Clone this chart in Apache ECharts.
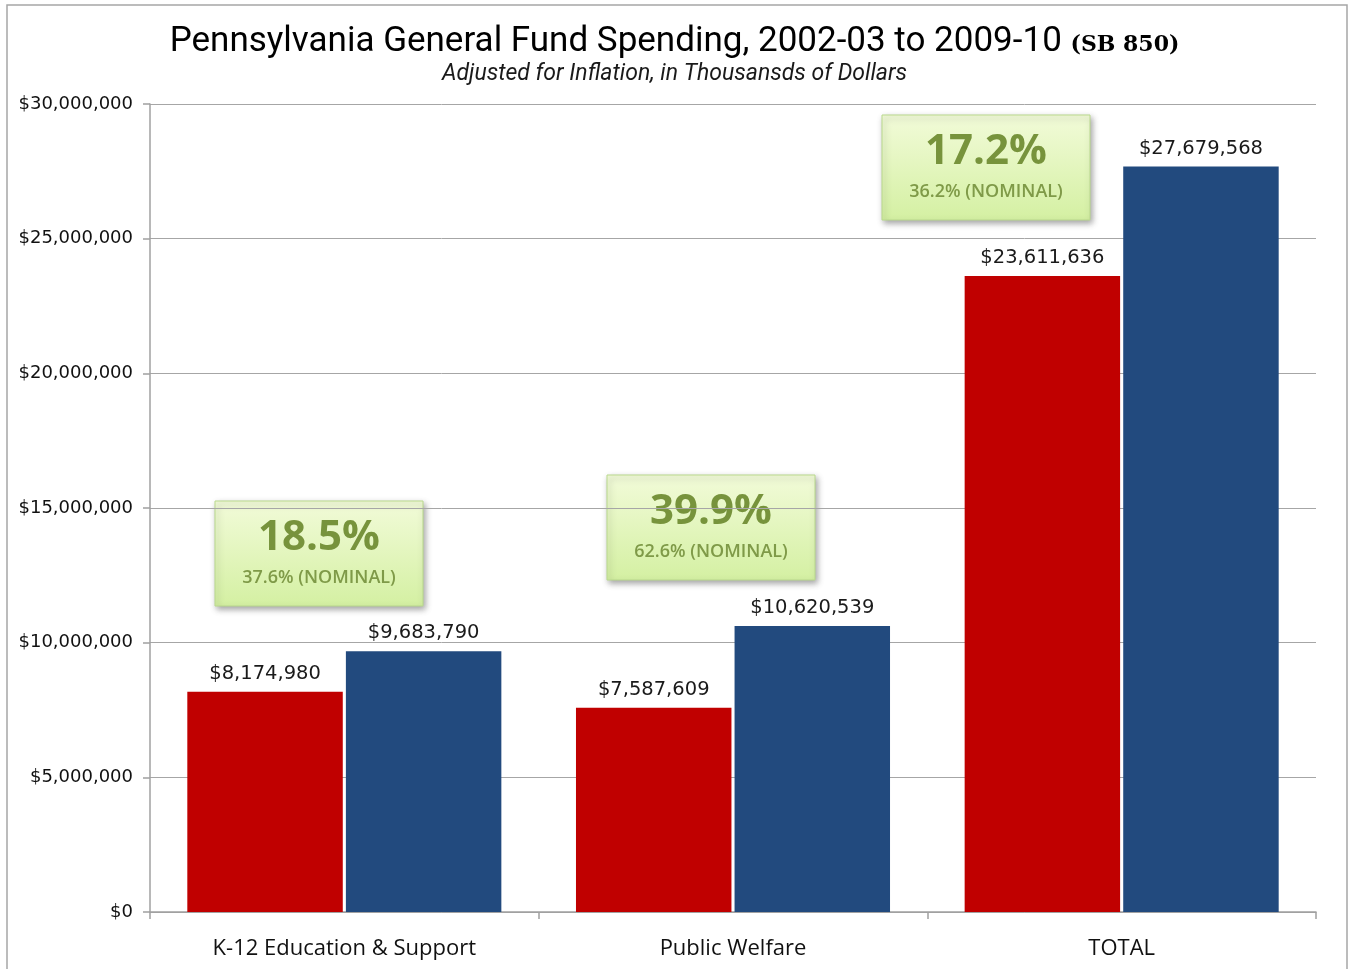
<!DOCTYPE html>
<html>
<head>
<meta charset="utf-8">
<script src="https://cdn.jsdelivr.net/npm/echarts@6/dist/echarts.min.js"></script>
<style>
html,body{margin:0;padding:0;background:#fff;}
#chart{width:1349px;height:969px;}
</style>
</head>
<body>
<div id="chart"></div>
<script>
const categories = ['K-12 Education & Support', 'Public Welfare', 'TOTAL'];
const spending2002 = [8174980, 7587609, 23611636];
const spending2009 = [9683790, 10620539, 27679568];
const realChange = ['18.5%', '39.9%', '17.2%'];
const nominalChange = ['37.6% (NOMINAL)', '62.6% (NOMINAL)', '36.2% (NOMINAL)'];
const yTicks = [0, 5000000, 10000000, 15000000, 20000000, 25000000, 30000000];

function money(v) {
  return '$' + Math.round(v).toString().replace(/\B(?=(\d{3})+(?!\d))/g, ',');
}

const chart = echarts.init(document.getElementById('chart'));

const boxPos = [
  {x: 215, y: 501},
  {x: 607, y: 475},
  {x: 882, y: 115}
];
const boxW = 208, boxH = 105;

const graphics = [
  {
    type: 'rect', x: 7, y: 5, z: -1,
    shape: {width: 1340, height: 990},
    style: {fill: 'none', stroke: '#a6a6a6', lineWidth: 1.5}
  }
];
boxPos.forEach((p, i) => {
  graphics.push({
    type: 'group', x: p.x, y: p.y, z: 100,
    children: [
      {
        type: 'rect',
        shape: {x: 0, y: 0, width: boxW, height: boxH},
        style: {
          fill: new echarts.graphic.LinearGradient(0, 0, 0, 1, [
            {offset: 0, color: '#f2fbd9'},
            {offset: 1, color: '#d4f0a2'}
          ]),
          stroke: '#b9d98c', lineWidth: 1,
          shadowBlur: 6, shadowOffsetX: 2, shadowOffsetY: 3,
          shadowColor: 'rgba(0,0,0,0.35)'
        }
      },
      {
        type: 'text', x: boxW / 2, y: 37,
        style: {
          text: realChange[i], x: 0, y: 0, align: 'center', verticalAlign: 'middle',
          font: 'bold 42px "Open Sans", "DejaVu Sans", sans-serif',
          fill: '#77933c'
        }
      },
      {
        type: 'text', x: boxW / 2, y: 77,
        style: {
          text: nominalChange[i], x: 0, y: 0, align: 'center', verticalAlign: 'middle',
          font: '600 18px "Open Sans", "DejaVu Sans", sans-serif',
          fill: '#7f9a48'
        }
      }
    ]
  });
});

const labelStyle = {
  show: true, position: 'top', distance: 8,
  formatter: p => money(p.value),
  fontFamily: '"DejaVu Sans", sans-serif', fontSize: 19.5, color: '#1a1a1a'
};

chart.setOption({
  animation: false,
  backgroundColor: '#fff',
  title: {
    left: 'center', top: 20,
    text: '{a|Pennsylvania General Fund Spending, 2002-03 to 2009-10 }{b|(SB 850)}',
    textStyle: {
      rich: {
        a: {fontFamily: 'Roboto, sans-serif', fontSize: 35, color: '#000', fontWeight: 'normal'},
        b: {fontFamily: '"DejaVu Serif", serif', fontSize: 22, color: '#000', fontWeight: 'bold', padding: [6, 0, 0, 0]}
      }
    },
    subtext: 'Adjusted for Inflation, in Thousansds of Dollars',
    subtextStyle: {fontFamily: 'Roboto, sans-serif', fontSize: 23, fontStyle: 'italic', color: '#1a1a1a'},
    itemGap: 3
  },
  grid: {left: 150, right: 33, top: 104, bottom: 57},
  xAxis: {
    type: 'category', data: categories,
    axisLine: {lineStyle: {color: '#a0a0a0', width: 1.5}},
    axisTick: {show: true, length: 7, lineStyle: {color: '#a0a0a0', width: 1.5}},
    axisLabel: {fontFamily: '"Open Sans", sans-serif', fontSize: 22, color: '#111', margin: 26}
  },
  yAxis: {
    type: 'value', min: 0, max: 30000000, interval: 5000000,
    axisLine: {show: true, lineStyle: {color: '#a0a0a0', width: 1.5}},
    axisTick: {show: true, length: 7, lineStyle: {color: '#a0a0a0', width: 1.5}},
    splitLine: {lineStyle: {color: '#a6a6a6', width: 1}},
    axisLabel: {
      formatter: v => yTicks.indexOf(v) >= 0 ? money(v) : '',
      fontFamily: '"DejaVu Sans", sans-serif', fontSize: 18, color: '#111', margin: 17
    }
  },
  graphic: graphics,
  series: [
    {
      name: '2002-03', type: 'bar', data: spending2002,
      barWidth: '40%', barGap: '2%',
      itemStyle: {color: '#c00000'}, label: labelStyle
    },
    {
      name: '2009-10', type: 'bar', data: spending2009,
      barWidth: '40%',
      itemStyle: {color: '#224a7e'}, label: labelStyle
    }
  ]
});
</script>
</body>
</html>
